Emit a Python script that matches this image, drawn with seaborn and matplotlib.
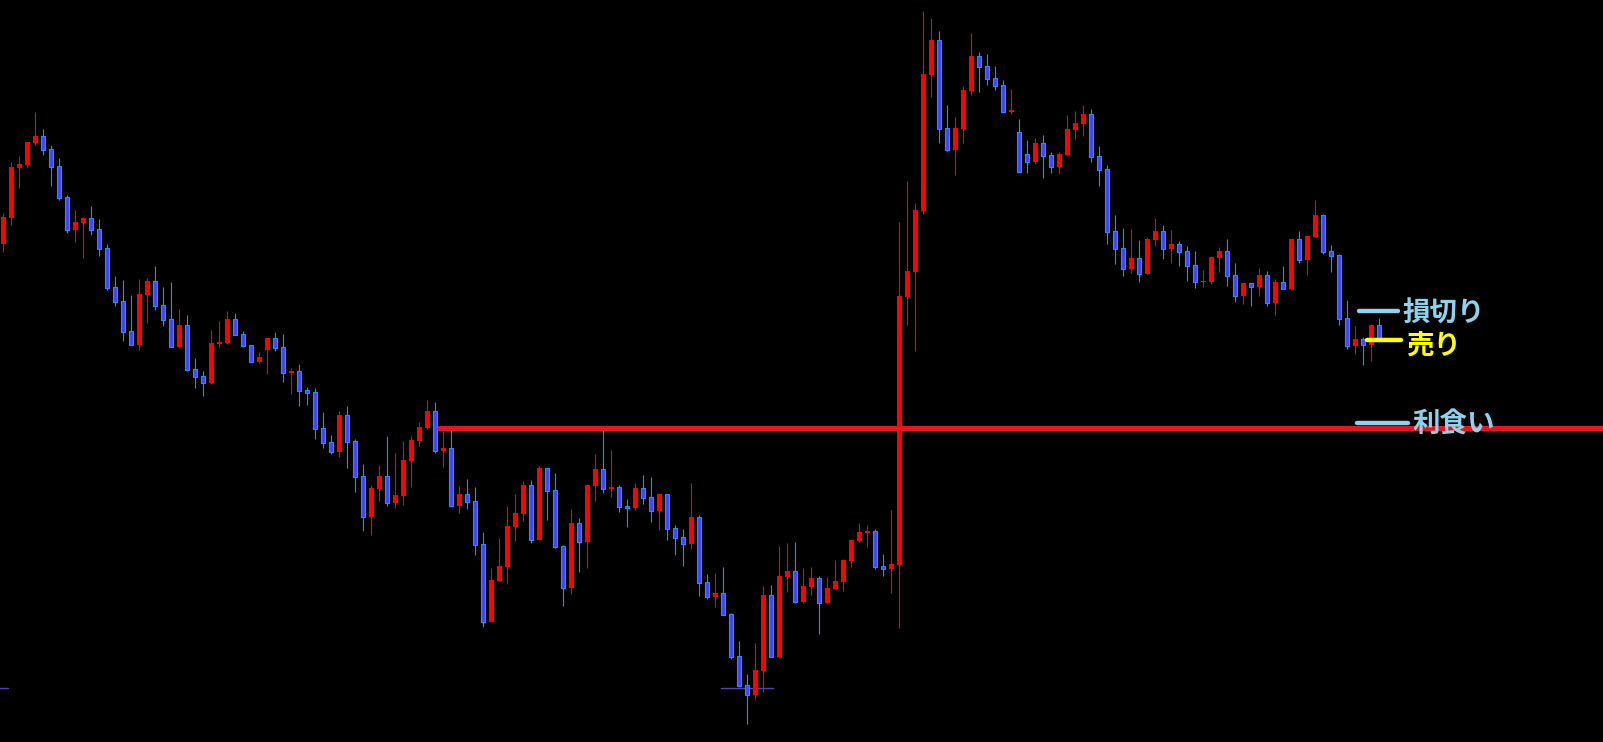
import numpy as np
import pandas as pd
import matplotlib.pyplot as plt
import seaborn as sns

# OHLC (arbitrary price units)
opens = [756, 782, 832, 835, 857, 864, 851, 834, 803, 770,
         777, 782, 771, 752, 713, 699, 669, 655, 705, 719,
         695, 681, 653, 675, 631, 624, 617, 656, 657, 681,
         666, 655, 638, 650, 662, 653, 627, 629, 610, 608,
         572, 558, 548, 585, 559, 524, 483, 511, 524, 497,
         504, 539, 559, 572, 589, 549, 552, 494, 506, 499,
         456, 378, 419, 433, 473, 486, 515, 460, 532, 510,
         454, 412, 477, 458, 514, 531, 511, 513, 494, 492,
         512, 503, 489, 506, 472, 463, 456, 483, 418, 403,
         407, 386, 344, 315, 305, 329, 405, 343, 423, 429,
         398, 413, 422, 397, 411, 418, 439, 459, 467, 469,
         434, 431, 435, 703, 728, 789, 925, 960, 872, 850,
         871, 909, 944, 934, 922, 915, 888, 868, 846, 838,
         857, 845, 833, 845, 870, 876, 886, 844, 831, 769,
         752, 731, 742, 726, 760, 769, 751, 756, 749, 735,
         718, 718, 742, 749, 725, 704, 717, 713, 725, 697,
         718, 711, 761, 740, 763, 785, 749, 745, 682, 654,
         661, 655, 675]
highs = [787, 838, 844, 858, 888, 871, 855, 842, 805, 790,
         783, 794, 781, 756, 724, 720, 705, 721, 722, 734,
         713, 718, 691, 685, 642, 629, 670, 679, 689, 687,
         669, 655, 648, 662, 668, 666, 632, 636, 613, 612,
         588, 565, 589, 594, 561, 536, 515, 535, 564, 547,
         559, 564, 578, 600, 598, 569, 572, 514, 521, 513,
         468, 432, 462, 494, 506, 519, 520, 534, 532, 527,
         455, 491, 482, 515, 546, 570, 550, 515, 501, 517,
         525, 523, 506, 506, 475, 471, 517, 485, 426, 427,
         433, 387, 359, 326, 357, 414, 415, 454, 457, 458,
         432, 433, 424, 423, 440, 441, 460, 477, 475, 471,
         446, 490, 778, 819, 797, 989, 982, 969, 895, 883,
         914, 967, 948, 946, 934, 920, 911, 881, 860, 862,
         865, 848, 848, 885, 889, 895, 891, 854, 835, 785,
         772, 771, 760, 763, 782, 775, 770, 759, 754, 749,
         730, 743, 753, 761, 737, 717, 717, 732, 729, 721,
         734, 761, 769, 764, 800, 786, 755, 746, 700, 674,
         663, 675, 682]
lows = [748, 775, 812, 832, 855, 845, 814, 800, 767, 758,
        742, 765, 744, 710, 694, 659, 655, 650, 677, 690,
        674, 653, 653, 629, 612, 604, 616, 653, 656, 665,
        653, 638, 637, 626, 649, 618, 606, 594, 595, 561,
        552, 546, 543, 532, 508, 469, 465, 499, 494, 492,
        495, 513, 554, 571, 547, 533, 494, 487, 491, 445,
        373, 378, 419, 416, 459, 479, 457, 460, 480, 452,
        394, 406, 428, 432, 499, 507, 503, 488, 473, 490,
        496, 478, 470, 460, 445, 434, 451, 404, 401, 393,
        385, 341, 314, 276, 301, 308, 343, 343, 408, 397,
        397, 405, 366, 397, 411, 409, 433, 458, 453, 431,
        424, 407, 372, 675, 649, 786, 903, 857, 849, 825,
        857, 905, 908, 915, 910, 888, 886, 828, 827, 836,
        822, 827, 826, 845, 861, 864, 838, 814, 756, 736,
        724, 727, 718, 726, 754, 741, 737, 734, 719, 712,
        713, 716, 728, 714, 698, 696, 694, 704, 694, 685,
        711, 711, 737, 725, 763, 746, 728, 675, 651, 646,
        635, 639, 661]
closes = [783, 833, 836, 858, 864, 850, 833, 802, 770, 778,
          782, 770, 751, 712, 698, 668, 655, 706, 719, 694,
          680, 653, 675, 630, 623, 617, 657, 658, 681, 665,
          654, 638, 643, 662, 652, 627, 629, 609, 607, 571,
          557, 548, 585, 558, 523, 483, 512, 524, 497, 505,
          540, 560, 573, 589, 549, 552, 494, 506, 498, 455,
          378, 420, 434, 474, 487, 515, 460, 532, 509, 453,
          412, 477, 458, 515, 531, 511, 513, 493, 492, 512,
          502, 489, 506, 471, 462, 456, 483, 417, 403, 407,
          385, 343, 314, 305, 330, 405, 343, 424, 429, 398,
          414, 422, 397, 412, 419, 440, 460, 468, 469, 433,
          431, 436, 704, 729, 790, 926, 960, 871, 850, 872,
          910, 944, 933, 921, 914, 888, 890, 828, 838, 857,
          844, 833, 846, 871, 877, 886, 843, 830, 768, 751,
          731, 742, 726, 761, 769, 751, 756, 748, 734, 718,
          719, 743, 749, 724, 704, 717, 713, 725, 697, 718,
          711, 761, 740, 764, 785, 748, 744, 681, 654, 661,
          655, 675, 661]

# horizontal levels
red_level = 572.5
red_start = 54.4
purple_level = 311.7
stop_level = 688.7      # 損切り
sell_level = 659.7      # 売り
target_level = 576.7    # 利食い

labels = ['損切り', '売り', '利食い']

sns.set_style('dark', {'axes.facecolor': 'black', 'figure.facecolor': 'black'})
plt.rcParams['font.family'] = ['Noto Sans CJK JP', 'DejaVu Sans']

df = pd.DataFrame({'open': opens, 'high': highs, 'low': lows, 'close': closes})
df['idx'] = np.arange(len(df))
df['up'] = df['close'] >= df['open']

fig = plt.figure(figsize=(16.03, 7.42), dpi=100)
ax = fig.add_axes([0, 0, 1, 1])
ax.set_facecolor('black')

red = '#FF0000'
blue_fill = '#4048FF'
blue_edge = '#1E90FF'

up = df[df['up']]
dn = df[~df['up']]

# wicks
ax.vlines(up['idx'], up['low'], up['high'], color=red, lw=0.8, zorder=2)
ax.vlines(dn['idx'], dn['low'], dn['high'], color=blue_edge, lw=0.8, zorder=2)

# bodies
h_up = np.maximum(up['close'] - up['open'], 1.2)
ax.bar(up['idx'], h_up, bottom=up['open'], width=0.58, color=red, lw=0, zorder=3)
h_dn = np.maximum(dn['open'] - dn['close'], 1.2)
ax.bar(dn['idx'], h_dn, bottom=dn['close'], width=0.5, color=blue_fill,
       edgecolor=blue_edge, lw=0.8, zorder=3)

# red horizontal line
sns.lineplot(x=[red_start, 205], y=[red_level, red_level], color='#E8141E',
             lw=3.6, ax=ax, legend=False, zorder=4, solid_capstyle='round')

# purple lines near the low
sns.lineplot(x=[89.7, 96.2], y=[purple_level, purple_level], color='#5B44B0',
             lw=1.0, ax=ax, legend=False, zorder=1)
sns.lineplot(x=[-1, 0.6], y=[purple_level, purple_level], color='#5B44B0',
             lw=1.0, ax=ax, legend=False, zorder=1)

# trade labels (line start, line end, text start, text offset)
light_blue = '#8ED2EC'
yellow = '#FFFF00'
marks = [(stop_level, 169.5, 174.3, 174.95, -2.5, light_blue),
         (sell_level, 170.5, 174.7, 175.4, -6.5, yellow),
         (target_level, 169.2, 175.6, 176.1, -1.5, light_blue)]
for (lvl, x0, x1, xt, dy, col), txt in zip(marks, labels):
    ax.plot([x0, x1], [lvl, lvl], color=col, lw=3.2, solid_capstyle='round', zorder=5)
    ax.text(xt, lvl + dy, txt, color=col, fontsize=19.8, fontweight='bold',
            va='center', ha='left', zorder=6)

ax.set_xlim(-3.3 / 8, (1603 - 3.3) / 8)
ax.set_ylim(258, 1000)
ax.set_xticks([])
ax.set_yticks([])
for s in ax.spines.values():
    s.set_visible(False)
ax.grid(False)

fig.savefig('out.png', dpi=100, facecolor='black')
